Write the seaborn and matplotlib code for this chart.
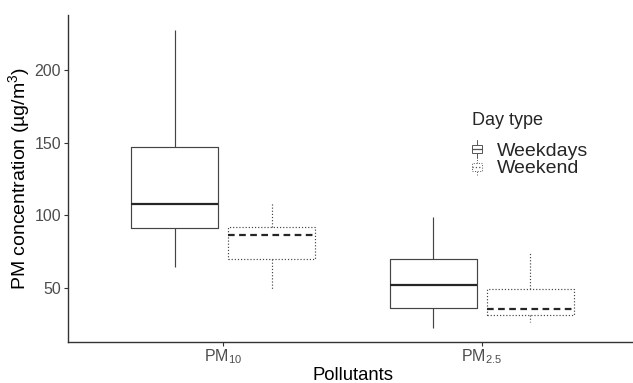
import numpy as np
import pandas as pd
import matplotlib
matplotlib.use("Agg")
import matplotlib.pyplot as plt
import seaborn as sns
from matplotlib.legend_handler import HandlerBase
from matplotlib.lines import Line2D
from matplotlib.patches import Rectangle

# ---- data (five-number summaries) ----
pollutants = ["PM$_{10}$", "PM$_{2.5}$"]
day_types = ["Weekdays", "Weekend"]
pm10_weekdays = [64, 91, 108, 147, 228]
pm10_weekend = [49, 70, 86, 92, 109]
pm25_weekdays = [22, 36, 52, 70, 99]
pm25_weekend = [26, 31, 35.5, 49, 74]
y_ticks = [50, 100, 150, 200]

groups = {
    (pollutants[0], day_types[0]): pm10_weekdays,
    (pollutants[0], day_types[1]): pm10_weekend,
    (pollutants[1], day_types[0]): pm25_weekdays,
    (pollutants[1], day_types[1]): pm25_weekend,
}
rows = []
for (p, d), vals in groups.items():
    for v in vals:
        rows.append({"Pollutants": p, "Day type": d, "value": v})
df = pd.DataFrame(rows)

sns.set_theme(style="white")
plt.rcParams["font.family"] = ["Liberation Sans", "DejaVu Sans"]
plt.rcParams["mathtext.fontset"] = "custom"
plt.rcParams["mathtext.rm"] = "Liberation Sans"
plt.rcParams["mathtext.it"] = "Liberation Sans:italic"
plt.rcParams["mathtext.bf"] = "Liberation Sans:bold"

W, H = 633, 383
fig = plt.figure(figsize=(W / 100, H / 100), dpi=100)
ax = fig.add_axes([68 / W, 1 - 342 / H, (637 - 68) / W, (342 - 15) / H])

line_col = "#444444"
styles = {"Weekdays": "-", "Weekend": ":"}
med_styles = {"Weekdays": "-", "Weekend": (0, (3, 2))}
for d in day_types:
    sub = df[df["Day type"] == d]
    sns.boxplot(
        data=sub, x="Pollutants", y="value", hue="Day type",
        order=pollutants, hue_order=day_types, dodge=True,
        width=0.75, gap=0.1, whis=np.inf, fill=False, showcaps=False,
        palette={k: line_col for k in day_types}, linewidth=0.85,
        boxprops=dict(linestyle=styles[d]),
        whiskerprops=dict(linestyle=styles[d]),
        medianprops=dict(linestyle=med_styles[d], linewidth=1.6, color="#262626"),
        legend=False, ax=ax,
    )

ax.set_xlim(-0.6, 1.6)
ax.set_ylim(12.4, 238.3)
ax.set_yticks(y_ticks)
ax.set_xlabel("Pollutants", fontsize=13.3, color="black", labelpad=1)
ax.set_ylabel("PM concentration (µg/m$^3$)", fontsize=14, color="black")
ax.yaxis.set_label_coords(-0.064, 0.5)
ax.tick_params(axis="both", which="major", length=3, width=0.8, color="#333333",
               labelcolor="#4D4D4D", labelsize=11.5, bottom=True, left=True)
ax.tick_params(axis="x", pad=0.5)
ax.tick_params(axis="y", pad=2)
for side in ["top", "right"]:
    ax.spines[side].set_visible(False)
for side in ["left", "bottom"]:
    ax.spines[side].set_color("#333333")
    ax.spines[side].set_linewidth(1.0)


class BoxKeyHandler(HandlerBase):
    def create_artists(self, legend, orig_handle, xdescent, ydescent, width,
                       height, fontsize, trans):
        ls = orig_handle.get_linestyle()
        cx = -xdescent + width / 2
        bw = 7
        top = -ydescent + height + 1.5
        bot = -ydescent - 1.5
        btop = -ydescent + height * 0.78
        bbot = -ydescent + height * 0.2
        med = -ydescent + height * 0.5
        arts = [
            Rectangle((cx - bw / 2, bbot), bw, btop - bbot, fill=False,
                      edgecolor="#555555", linewidth=0.7, linestyle=ls, transform=trans),
            Line2D([cx, cx], [btop, top], color="#555555", lw=0.7, ls=ls, transform=trans),
            Line2D([cx, cx], [bot, bbot], color="#555555", lw=0.7, ls=ls, transform=trans),
            Line2D([cx - bw / 2, cx + bw / 2], [med, med], color="#555555", lw=0.9,
                   ls=ls, transform=trans),
        ]
        return arts


handles = [Line2D([], [], linestyle=styles[d]) for d in day_types]
leg = ax.legend(handles, day_types, title="Day type", loc="upper left",
                bbox_to_anchor=(469 / W, 1 - 109 / H), bbox_transform=fig.transFigure,
                frameon=False, fontsize=14, title_fontsize=13,
                handler_map={Line2D: BoxKeyHandler()}, handlelength=0.5,
                handleheight=0.7, handletextpad=0.8, labelspacing=0.0,
                borderaxespad=0, borderpad=0.15)
leg._legend_box.align = "left"
leg._legend_box.sep = 9.5

fig.savefig("out.png", dpi=100)
